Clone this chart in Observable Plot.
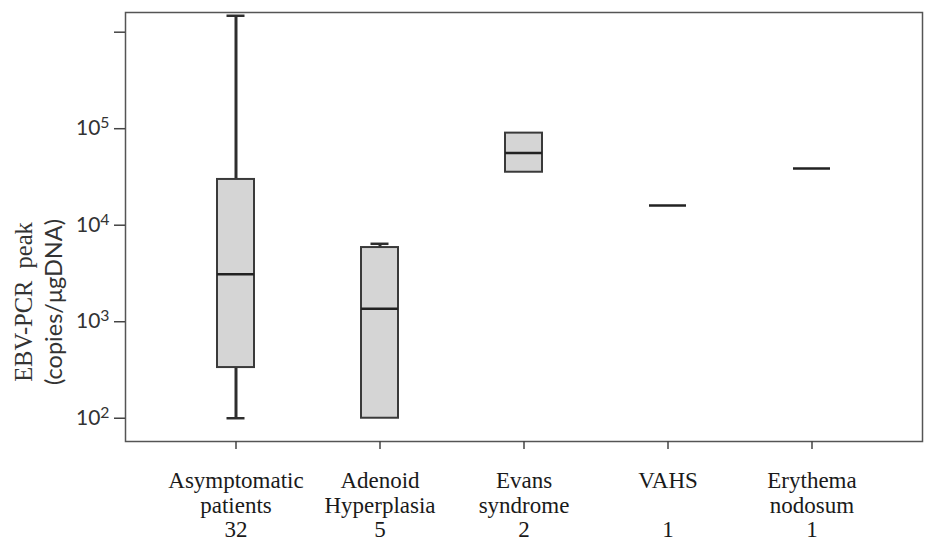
<!DOCTYPE html>
<html>
<head>
<meta charset="utf-8">
<script src="https://cdn.jsdelivr.net/npm/d3@7"></script>
<script src="https://cdn.jsdelivr.net/npm/@observablehq/plot@0.6"></script>
<style>
  html, body { margin: 0; padding: 0; background: #ffffff; }
  g[aria-label="x-axis tick label"] text { font-family: "Liberation Serif", "Times New Roman", serif; }
</style>
</head>
<body>
<div id="chart"></div>
<script>
// ---- data ----
const groups = ["Asymptomatic patients", "Adenoid Hyperplasia", "Evans syndrome", "VAHS", "Erythema nodosum"];
const labelLine1 = ["Asymptomatic", "Adenoid", "Evans", "VAHS", "Erythema"];
const labelLine2 = ["patients", "Hyperplasia", "syndrome", "", "nodosum"];
const patientCounts = [32, 5, 2, 1, 1];
const whiskerLow  = [100, 100, null, null, null];
const quartile1   = [335, 100, 35400, null, null];
const medianValue = [3100, 1360, 56000, 16000, 38700];
const quartile3   = [29800, 5870, 90000, null, null];
const whiskerHigh = [1480000, 6420, null, null, null];
const yTicks = [1e2, 1e3, 1e4, 1e5, 1e6];
const yTickLabels = ["10²", "10³", "10⁴", "10⁵", ""];
const yTitle1 = "EBV-PCR\u00A0\u00A0peak";
const yTitle2 = "(copies/μgDNA)";

const rows = groups.map((g, i) => ({
  group: g, lo: whiskerLow[i], q1: quartile1[i], med: medianValue[i], q3: quartile3[i], hi: whiskerHigh[i]
}));
const boxed = rows.filter(d => d.q1 != null);
const upper = rows.filter(d => d.hi != null);
const lower = rows.filter(d => d.lo != null && d.lo < d.q1);

const serif = "'Liberation Serif', 'Times New Roman', serif";

const chart = Plot.plot({
  width: 927,
  height: 542,
  marginLeft: 125,
  marginRight: 5,
  marginTop: 12,
  marginBottom: 101,
  style: { fontFamily: "Lato, sans-serif", background: "#ffffff", color: "#333" },
  x: { type: "band", domain: groups, paddingInner: 0.744, paddingOuter: 0.633, label: null },
  y: { type: "log", domain: [57.4, 1.6e6], label: null },
  marks: [
    Plot.ruleX(upper, { x: "group", y1: "q3", y2: "hi", stroke: "#2e2e2e", strokeWidth: 3 }),
    Plot.ruleX(lower, { x: "group", y1: "lo", y2: "q1", stroke: "#2e2e2e", strokeWidth: 3 }),
    Plot.tickY(upper, { x: "group", y: "hi", stroke: "#2e2e2e", strokeWidth: 2.5, insetLeft: 9.5, insetRight: 9.5 }),
    Plot.tickY(lower, { x: "group", y: "lo", stroke: "#2e2e2e", strokeWidth: 2.5, insetLeft: 9.5, insetRight: 9.5 }),
    Plot.barY(boxed, { x: "group", y1: "q1", y2: "q3", fill: "#d5d5d5", stroke: "#3a3a3a", strokeWidth: 2 }),
    Plot.tickY(rows, { x: "group", y: "med", stroke: "#222", strokeWidth: 2.5 }),
    Plot.frame({ stroke: "#555", strokeWidth: 1.5 }),
    Plot.axisY(yTicks, {
      tickSize: 11, tickPadding: 5, fontSize: 21,
      stroke: "#444", strokeWidth: 1.5, fill: "#333",
      tickFormat: d => yTickLabels[yTicks.indexOf(d)], label: null
    }),
    Plot.axisX({
      tickSize: 8, tickPadding: 21, fontSize: 23, fontFamily: serif,
      lineHeight: 1.07, stroke: "#444", strokeWidth: 1.5, fill: "#1a1a1a",
      tickFormat: d => { const i = groups.indexOf(d); return labelLine1[i] + "\n" + labelLine2[i] + "\n" + patientCounts[i]; },
      label: null
    })
  ]
});
document.getElementById("chart").appendChild(chart);

// ---- styling touches: real superscripts and the two-font y-axis title ----
const svg = d3.select(chart);
const supMap = { "²": "2", "³": "3", "⁴": "4", "⁵": "5", "⁶": "6" };
svg.selectAll('g[aria-label="y-axis tick label"] text').each(function () {
  const t = this.textContent;
  if (!t) return;
  const base = t.slice(0, -1), exp = supMap[t.slice(-1)];
  if (!exp) return;
  const sel = d3.select(this);
  sel.text(null);
  sel.append("tspan").text(base);
  sel.append("tspan").attr("dy", "-0.45em").attr("font-size", "0.75em").text(exp);
});

const cy = 302;
svg.append("text")
  .attr("transform", `translate(24,${cy}) rotate(-90)`)
  .attr("text-anchor", "middle").attr("dy", "0.32em")
  .style("font-family", serif).attr("font-size", 24.5).attr("fill", "#333")
  .text(yTitle1);
svg.append("text")
  .attr("transform", `translate(54,${cy}) rotate(-90)`)
  .attr("text-anchor", "middle").attr("dy", "0.32em")
  .style("font-family", "Lato, sans-serif").attr("font-size", 23.5).attr("fill", "#333")
  .text(yTitle2);
</script>
</body>
</html>
